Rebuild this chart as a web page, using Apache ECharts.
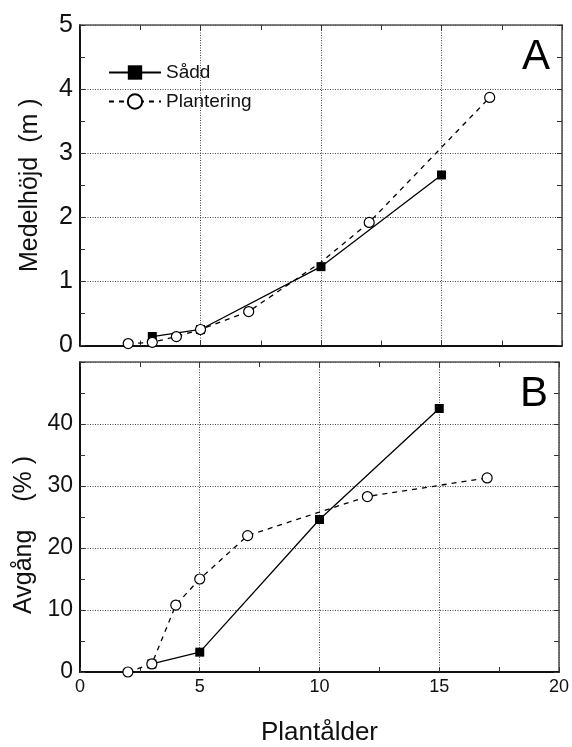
<!DOCTYPE html>
<html>
<head>
<meta charset="utf-8">
<script src="https://cdn.jsdelivr.net/npm/echarts@6/dist/echarts.min.js"></script>
<style>
html,body{margin:0;padding:0;background:#fff;}
#c{width:572px;height:747px;}
</style>
</head>
<body>
<div id="c"></div>
<script>
// ---- data ----
const saddX = [3, 5, 10, 15];
const saddHeight = [0.14, 0.25, 1.23, 2.66];
const saddLoss = [1.3, 3.2, 24.6, 42.5];

const plantX = [2, 3, 4, 5, 7, 10, 12, 17];
const plantHeight = [0.03, 0.05, 0.14, 0.25, 0.53, 1.3, 1.92, 3.87];
const plantLoss = [0, 1.3, 10.8, 15, 22.0, 25.8, 28.3, 31.3];
const plantHiddenMarkX = [10]; // marker hidden behind the square at this age

const xRange = [0, 20];
const heightRange = [0, 5];
const lossRange = [0, 50];

const seriesNames = ['Sådd', 'Plantering'];
const panelLabels = ['A', 'B'];
const xName = 'Plantålder';
const yNameA = 'Medelhöjd  (m )';
const yNameB = 'Avgång    (% )';

// ---- build ----
const font = 'Liberation Sans, Arial, sans-serif';
function pairs(xs, ys, hidden) {
  return xs.map((x, i) => {
    const item = { value: [x, ys[i]] };
    if (hidden && hidden.indexOf(x) >= 0) item.symbol = 'none';
    return item;
  });
}
const splitLine = { show: true, lineStyle: { color: '#444', type: [1, 1.5], width: 1 } };
function xAxisDef(grid, pos, labels, extra) {
  return Object.assign({
    type: 'value', gridIndex: grid, position: pos, min: xRange[0], max: xRange[1], interval: 5,
    axisLine: { show: true, onZero: false, lineStyle: { color: pos === 'bottom' ? '#111' : '#555', width: pos === 'bottom' ? 2 : 1.6 } },
    axisTick: { show: true, inside: true, length: 5, lineStyle: { color: '#333' } },
    minorTick: { show: true, splitNumber: 2, length: 5, lineStyle: { color: '#333' } },
    splitLine: pos === 'bottom' ? splitLine : { show: false },
    axisLabel: { show: labels, color: '#111', fontFamily: font, fontSize: 18, margin: 6 }
  }, extra || {});
}
function yAxisDef(grid, pos, range, interval, labels, fs, extra) {
  return Object.assign({
    type: 'value', gridIndex: grid, position: pos, min: range[0], max: range[1], interval: interval,
    axisLine: { show: true, onZero: false, lineStyle: { color: pos === 'left' ? '#111' : '#555', width: pos === 'left' ? 2 : 1.6 } },
    axisTick: { show: true, inside: true, length: 5, lineStyle: { color: '#333' } },
    minorTick: { show: true, splitNumber: 2, length: 5, lineStyle: { color: '#333' } },
    splitLine: pos === 'left' ? splitLine : { show: false },
    axisLabel: { show: labels, color: '#111', fontFamily: font, fontSize: fs, margin: 7 }
  }, extra || {});
}
const saddStyle = {
  type: 'line', symbol: 'rect', symbolSize: 9, z: 3,
  itemStyle: { color: '#000', borderWidth: 0 },
  lineStyle: { color: '#000', width: 1.3, type: 'solid' }, animation: false
};
const plantStyle = {
  type: 'line', symbol: 'circle', symbolSize: 10, z: 4,
  itemStyle: { color: '#fff', borderColor: '#000', borderWidth: 1.2 },
  lineStyle: { color: '#000', width: 1.3, type: [5, 5] }, animation: false
};

const option = {
  backgroundColor: '#fff',
  animation: false,
  grid: [
    { left: 80, top: 25, width: 482, height: 320.5 },
    { left: 80, top: 362, width: 482, height: 320.5 }
  ],
  legend: {
    data: seriesNames, orient: 'vertical', left: 103, top: 58, itemWidth: 52, itemHeight: 18, itemGap: 10,
    textStyle: { fontFamily: font, fontSize: 19, color: '#111' }, selectedMode: false
  },
  xAxis: [
    xAxisDef(0, 'bottom', false),
    xAxisDef(0, 'top', false),
    xAxisDef(1, 'bottom', true, {
      name: xName, nameLocation: 'middle', nameGap: 48,
      nameTextStyle: { fontFamily: font, fontSize: 26, color: '#111' }
    }),
    xAxisDef(1, 'top', false)
  ],
  yAxis: [
    yAxisDef(0, 'left', heightRange, 1, true, 25, {
      name: yNameA, nameLocation: 'middle', nameGap: 37, nameRotate: 90,
      nameTextStyle: { fontFamily: font, fontSize: 25, color: '#111' }
    }),
    yAxisDef(0, 'right', heightRange, 1, false, 25),
    yAxisDef(1, 'left', lossRange, 10, true, 23, {
      name: yNameB, nameLocation: 'middle', nameGap: 36, nameRotate: 90,
      nameTextStyle: { fontFamily: font, fontSize: 25, color: '#111', padding: [0, 36, 0, 0] }
    }),
    yAxisDef(1, 'right', lossRange, 10, false, 23)
  ],
  series: [
    Object.assign({ name: seriesNames[0], xAxisIndex: 0, yAxisIndex: 0, data: pairs(saddX, saddHeight) }, saddStyle),
    Object.assign({ name: seriesNames[1], xAxisIndex: 0, yAxisIndex: 0, data: pairs(plantX, plantHeight, plantHiddenMarkX) }, plantStyle),
    Object.assign({ name: seriesNames[0], xAxisIndex: 2, yAxisIndex: 2, data: pairs(saddX, saddLoss) }, saddStyle),
    Object.assign({ name: seriesNames[1], xAxisIndex: 2, yAxisIndex: 2, data: pairs(plantX, plantLoss, plantHiddenMarkX) }, plantStyle)
  ],
  graphic: [
    { type: 'text', right: 22, top: 36, style: { text: panelLabels[0], fontFamily: font, fontSize: 42, fill: '#000' } },
    { type: 'text', right: 24, top: 373, style: { text: panelLabels[1], fontFamily: font, fontSize: 42, fill: '#000' } }
  ]
};
option.yAxis[2].axisLabel.showMaxLabel = false;
const chart = echarts.init(document.getElementById('c'), null, { renderer: 'canvas' });
chart.setOption(option);
</script>
</body>
</html>
